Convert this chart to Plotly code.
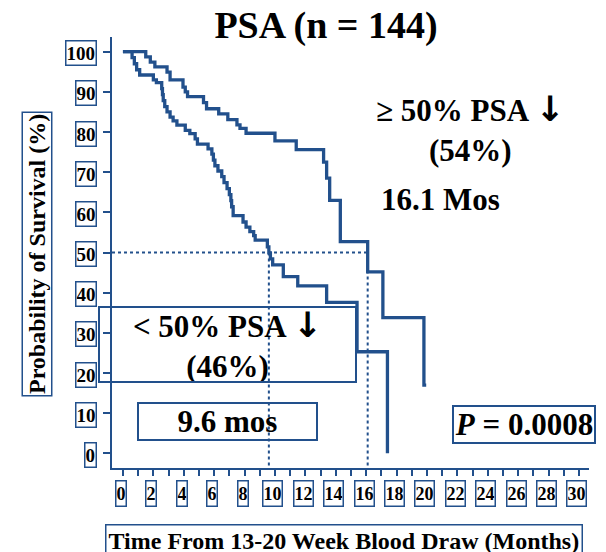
import plotly.graph_objects as go

# Kaplan-Meier step points (months, survival %)
high_months = [0, 1.5, 1.8, 2.1, 2.9, 3.1, 3.95, 4.1, 4.25, 5.3, 5.5, 6.3, 6.9, 7.5, 7.7, 8.1,
               10.0, 11.4, 13.2, 13.4, 13.6, 14.3, 16.1, 17.1, 19.8, 19.95]
high_surv = [100, 98.7, 97.4, 96.2, 94.9, 93.0, 91.2, 90.0, 88.8, 87.3, 85.8, 84.5, 83.1, 81.8, 80.9, 79.7,
             77.8, 75.6, 72.5, 68.5, 63.0, 52.7, 45.2, 33.8, 17.0, 17.0]

low_months = [0, 0.6, 0.75, 0.9, 1.1, 2.0, 2.2, 2.55, 2.6, 2.65, 2.75, 2.9, 3.1, 3.3, 3.55, 4.1, 4.4,
              4.75, 4.9, 5.6, 5.85, 5.95, 6.05, 6.25, 6.5, 6.65, 6.85, 7.0, 7.1, 7.15, 7.25, 7.9, 8.1,
              8.35, 8.6, 8.7, 9.5, 9.6, 9.7, 9.85, 10.55, 11.5, 13.4, 15.4, 17.4]
low_surv = [100, 98.5, 97.0, 95.5, 94.2, 93.0, 92.3, 90.8, 89.3, 87.8, 86.3, 85.0, 83.7, 82.8, 81.7, 80.4, 79.6,
            78.3, 77.0, 75.8, 74.5, 73.0, 71.6, 70.3, 68.9, 67.4, 65.9, 64.4, 62.9, 61.4, 59.2, 57.6, 56.3,
            55.2, 54.2, 53.1, 51.4, 49.9, 48.4, 46.9, 44.0, 41.7, 37.6, 25.3, 0]

median_high = 16.1
median_low = 9.6
median_level = 50

y_tick_values = [0, 10, 20, 30, 40, 50, 60, 70, 80, 90, 100]
x_tick_values = [0, 2, 4, 6, 8, 10, 12, 14, 16, 18, 20, 22, 24, 26, 28, 30]

BLUE = "#22508c"
FONT = "Liberation Serif"
X_RANGE = [-0.72, 30.66]
Y_RANGE = [-3.65, 103.66]

# heavy down arrow glyph
ARROW = "<span style='font-family:DejaVu Sans;font-weight:bold;font-size:35px'>\u2193</span>"

fig = go.Figure()

# dotted median guides
guide = dict(color=BLUE, width=2, dash="3px,3px")
fig.add_trace(go.Scatter(x=[X_RANGE[0], median_high], y=[median_level, median_level],
                         mode="lines", line=guide, hoverinfo="skip"))
fig.add_trace(go.Scatter(x=[median_low, median_low], y=[median_level, Y_RANGE[0]],
                         mode="lines", line=guide, hoverinfo="skip"))
fig.add_trace(go.Scatter(x=[median_high, median_high], y=[median_level, Y_RANGE[0]],
                         mode="lines", line=guide, hoverinfo="skip"))

# survival curves
fig.add_trace(go.Scatter(x=high_months, y=high_surv, mode="lines",
                         line=dict(color=BLUE, width=3.3, shape="hv"), name=">= 50% PSA decline"))
fig.add_trace(go.Scatter(x=low_months, y=low_surv, mode="lines",
                         line=dict(color=BLUE, width=3.3, shape="hv"), name="< 50% PSA decline"))

annotations = []

# boxed tick labels
for v in y_tick_values:
    annotations.append(dict(
        text=str(v), xref="paper", x=0, xanchor="right", xshift=-15,
        yref="y", y=v, yanchor="middle", yshift=-1.5, showarrow=False,
        font=dict(family=FONT, size=19, color="black", weight="bold"),
        bordercolor=BLUE, borderwidth=1.5, borderpad=0, height=23))
for v in x_tick_values:
    annotations.append(dict(
        text=str(v), xref="x", x=v, xanchor="center", xshift=-2,
        yref="paper", y=0, yanchor="top", yshift=-12, showarrow=False,
        font=dict(family=FONT, size=18, color="black", weight="bold"),
        bordercolor=BLUE, borderwidth=1.5, borderpad=0, height=24))

# axis titles
annotations.append(dict(
    text="Probability of Survival (%)", textangle=-90,
    xref="paper", x=0, xanchor="center", xshift=-75.5,
    yref="paper", y=0.4965, yanchor="middle", showarrow=False,
    font=dict(family=FONT, size=24, color="black", weight="bold"),
    bordercolor=BLUE, borderwidth=1.5, borderpad=1))
annotations.append(dict(
    text="Time From 13-20 Week Blood Draw (Months)",
    xref="paper", x=0.4864, xanchor="center",
    yref="paper", y=0, yanchor="middle", yshift=-72, showarrow=False,
    font=dict(family=FONT, size=24, color="black", weight="bold"),
    bordercolor=BLUE, borderwidth=1.5, borderpad=2))

# group labels and medians
big = dict(family=FONT, size=31, color="black", weight="bold")
annotations.append(dict(
    text="\u2265 50% PSA " + ARROW + "<br>(54%)", xref="x", x=22.83, yref="y", y=81.0,
    showarrow=False, align="center", font=big))
annotations.append(dict(
    text="16.1 Mos", xref="x", x=20.92, yref="y", y=63.1, showarrow=False, font=big))
annotations.append(dict(
    text="< 50% PSA " + ARROW + "<br>(46%)", xref="x", x=6.875, yref="y", y=27.1,
    showarrow=False, align="center", font=big,
    bordercolor=BLUE, borderwidth=2, borderpad=0, width=255, height=73))
annotations.append(dict(
    text="9.6 mos", xref="x", x=6.875, yref="y", y=7.9, showarrow=False, font=big,
    bordercolor=BLUE, borderwidth=2, borderpad=0, width=177, height=35))
annotations.append(dict(
    text="<i>P</i> = 0.0008", xref="x", x=26.38, yref="y", y=7.2, showarrow=False, font=big,
    bordercolor=BLUE, borderwidth=2, borderpad=0, width=140, height=35))

fig.update_layout(
    width=606, height=552,
    margin=dict(l=112, r=17, t=37, b=84),
    paper_bgcolor="white", plot_bgcolor="white",
    showlegend=False,
    title=dict(text="PSA (n = 144)", x=0.538, xanchor="center", xref="container",
               y=0.956, yanchor="middle", yref="container",
               font=dict(family=FONT, size=38, color="black", weight="bold")),
    xaxis=dict(range=X_RANGE, showgrid=False, zeroline=False, showline=True,
               linecolor=BLUE, linewidth=2, ticks="outside", ticklen=6, tickwidth=1.5,
               tickcolor=BLUE, tickmode="linear", tick0=0, dtick=1, showticklabels=False),
    yaxis=dict(range=Y_RANGE, showgrid=False, zeroline=False, showline=True,
               linecolor=BLUE, linewidth=2, ticks="outside", ticklen=7, tickwidth=1.5,
               tickcolor=BLUE, tickmode="array", tickvals=y_tick_values, showticklabels=False),
    annotations=annotations,
)

fig.write_html("out.html", config={"displayModeBar": False})
